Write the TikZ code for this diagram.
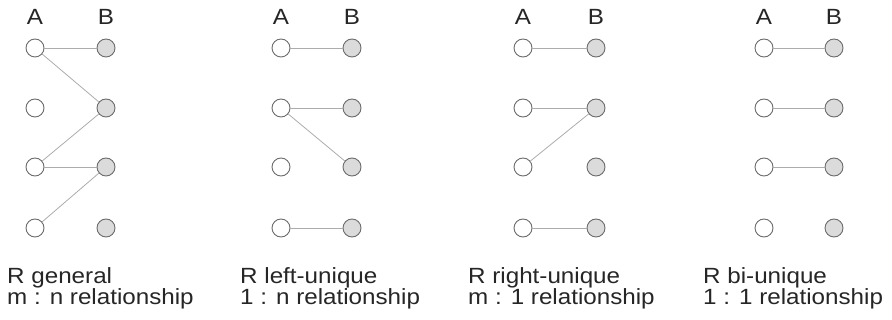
\documentclass[tikz,border=0pt]{standalone}
\usepackage{fontspec}
\setmainfont{Liberation Sans}[FakeStretch=1.1]
\usetikzlibrary{calc}

\tikzset{
  elemA/.style={circle, draw=gray!85!black, line width=0.9pt, fill=white, minimum size=18pt, inner sep=0pt},
  elemB/.style={elemA, fill=gray!28},
  pair/.style={gray!65, line width=0.8pt},
  lbl/.style={font=\fontsize{22}{22}\selectfont, text=black!85, inner sep=0pt, anchor=base},
}

\begin{document}
\begin{tikzpicture}[x=1pt, y=-1pt]
  \useasboundingbox (0,0) rectangle (892,320);
  % Elements of A and B
  \foreach \p/\xa/\xb in {1/35/106, 2/281/352, 3/523/596, 4/764/834} {
    \node[lbl] (hA\p) at (\xa,25) {A};
    \node[lbl] (hB\p) at (\xb,25) {B};
    \foreach \r/\y in {1/48, 2/108, 3/167, 4/228} {
      \node[elemA] (a\p\r) at (\xa,\y) {};
      \node[elemB] (b\p\r) at (\xb,\y) {};
    }
  }
  % Pairs in R
  \foreach \p/\i/\j in {1/1/1, 1/1/2, 1/3/2, 1/3/3, 1/4/3, 2/1/1, 2/2/2, 2/2/3, 2/4/4,
                        3/1/1, 3/2/2, 3/3/2, 3/4/4, 4/1/1, 4/2/2, 4/3/3}
    \draw[pair] (a\p\i) -- (b\p\j);
  % Captions
  \foreach \p/\xt/\kind/\card in {1/7/general/m : n, 2/240/left-unique/1 : n,
                                 3/468/right-unique/m : 1, 4/703/bi-unique/1 : 1} {
    \node[lbl, anchor=base west] (kind\p) at (\xt,284) {R \kind};
    \node[lbl, anchor=base west] (card\p) at (\xt,305) {\card\ relationship};
  }
\end{tikzpicture}
\end{document}
